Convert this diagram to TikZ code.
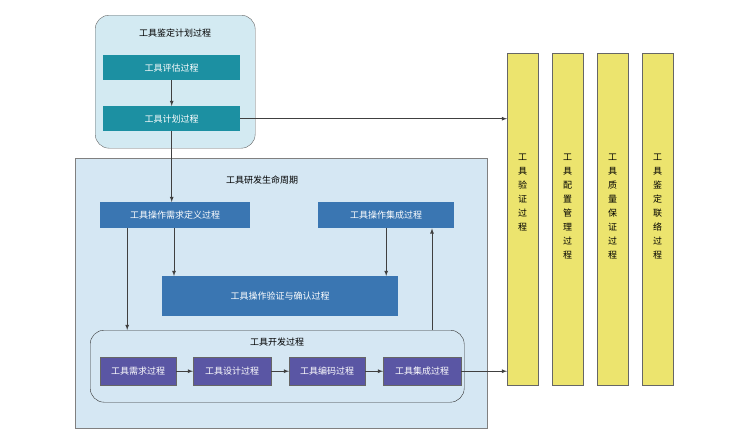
\documentclass[tikz,border=0pt]{standalone}
\usepackage{fontspec}
\setmainfont{Noto Sans CJK SC}
\definecolor{cteal}{HTML}{1C90A2}
\definecolor{cblue}{HTML}{3A76B2}
\definecolor{cpurp}{HTML}{5A56A4}
\definecolor{cyel}{HTML}{ECE46E}
\definecolor{clife}{HTML}{D5E7F3}
\definecolor{ctop}{HTML}{D3EAF2}
\begin{document}
\begin{tikzpicture}[x=1pt,y=-1pt,
 every node/.style={font=\fontsize{9}{10}\selectfont},
 teal/.style={draw=none,fill=cteal,text=white,minimum height=25pt,anchor=north west},
 blue/.style={draw=none,fill=cblue,text=white,anchor=north west},
 purp/.style={draw=black!60,fill=cpurp,text=white,minimum height=28pt,anchor=north west,inner sep=1pt},
 ybar/.style={draw=black!60,fill=cyel,minimum width=31pt,minimum height=332pt,anchor=north west},
 arr/.style={draw=black!75,->,>=latex,thick}]
\useasboundingbox (0,0) rectangle (738,440);
\node[draw=black!60,fill=ctop,rounded corners=14pt,minimum width=160pt,minimum height=133pt,anchor=north west] (top) at (95,15) {};
\node at (175,33) (tt) {工具鉴定计划过程};
\node[teal,minimum width=137pt] (eval) at (103,55) {工具评估过程};
\node[teal,minimum width=137pt] (plan) at (103,106) {工具计划过程};
\node[draw=black!50,fill=clife,minimum width=412pt,minimum height=270pt,anchor=north west] (life) at (75,158) {};
\node at (262,180) (lt) {工具研发生命周期};
\node[blue,minimum width=150pt,minimum height=26pt] (req) at (100,202) {工具操作需求定义过程};
\node[blue,minimum width=136pt,minimum height=26pt] (int) at (318,202) {工具操作集成过程};
\node[blue,minimum width=236pt,minimum height=40pt] (vv) at (162,276) {工具操作验证与确认过程};
\node[draw=black!80,fill=clife,rounded corners=14pt,minimum width=374pt,minimum height=72pt,anchor=north west] (dev) at (90,330) {};
\node at (277,342) (dt) {工具开发过程};
\node[purp,minimum width=76pt] (p1) at (100,357) {工具需求过程};
\node[purp,minimum width=78pt] (p2) at (193,357) {工具设计过程};
\node[purp,minimum width=76pt] (p3) at (289,357) {工具编码过程};
\node[purp,minimum width=78pt] (p4) at (383,357) {工具集成过程};
\foreach \i/\x/\t in {1/507/{工\\具\\验\\证\\过\\程},2/552/{工\\具\\配\\置\\管\\理\\过\\程},3/597/{工\\具\\质\\量\\保\\证\\过\\程},4/642/{工\\具\\鉴\\定\\联\\络\\过\\程}}{
 \node[ybar] (y\i) at (\x,53) {};
 \node[anchor=north,align=center,font=\fontsize{9}{14}\selectfont] (yt\i) at (\x+15.5,150) {\t};
}
\draw[arr] (eval.south) -- (plan.north);
\draw[arr] (plan.east) -- (y1.west |- plan.east);
\draw[arr] (plan.south) -- (req.north -| plan.south);
\draw[arr] ([xshift=-48pt]req.south) -- ([xshift=-48pt]req.south |- dev.north);
\draw[arr] (req.south -| vv.north west) ++(12,0) coordinate (c1) -- (c1 |- vv.north);
\draw[arr] (int.south) ++(0,0) coordinate (c2) -- (c2 |- vv.north);
\draw[arr] (dev.north -| 432,0) -- (int.south east -| 432,0);
\draw[arr] (p1) -- (p2); \draw[arr] (p2) -- (p3); \draw[arr] (p3) -- (p4);
\draw[arr] (p4.east) -- (y1.west |- p4.east);
\end{tikzpicture}
\end{document}
